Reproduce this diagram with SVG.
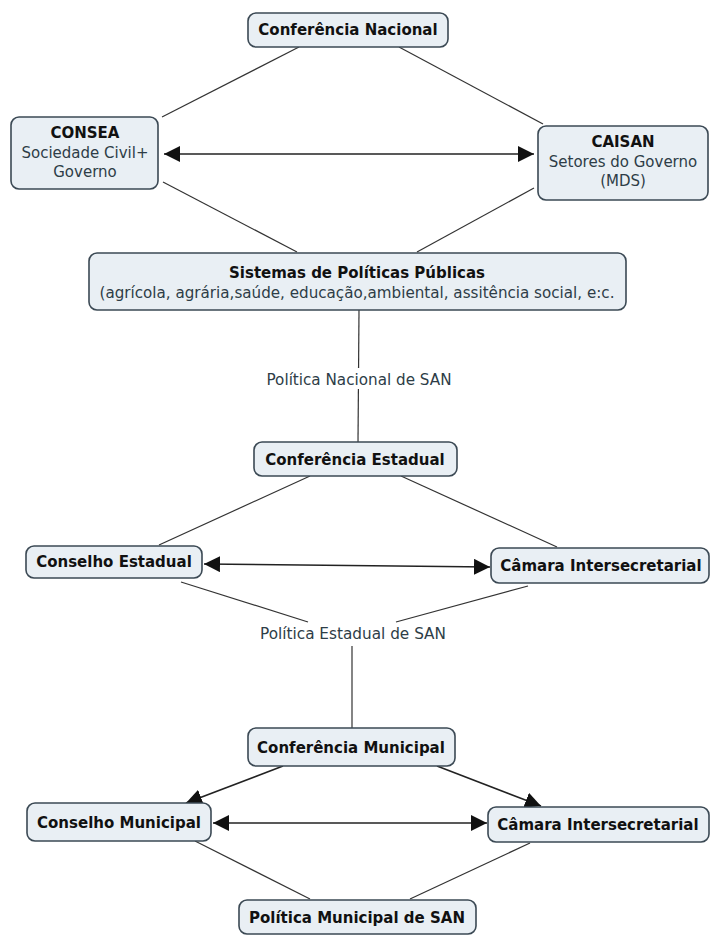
<svg xmlns="http://www.w3.org/2000/svg" width="710" height="935" viewBox="0 0 710 935">
<defs>
<style>
.box{fill:#e9eff4;stroke:#3b4954;stroke-width:1.6}
.b{font-family:"DejaVu Sans",Verdana,sans-serif;font-weight:bold;font-size:15px;fill:#111;text-anchor:middle}
.n{font-family:"DejaVu Sans",Verdana,sans-serif;font-size:15px;fill:#2e3d47;text-anchor:middle}
.l{font-family:"DejaVu Sans",Verdana,sans-serif;font-size:15px;fill:#2e3d47;text-anchor:middle}
.ln{stroke:#333;stroke-width:1.2;fill:none}
.ar{stroke:#222;stroke-width:1.6;fill:none}
</style>
<marker id="ah" viewBox="0 0 10 10" refX="10" refY="5" markerWidth="16" markerHeight="16" markerUnits="userSpaceOnUse" orient="auto-start-reverse">
<path d="M0,0 L10,5 L0,10 Z" fill="#111"/>
</marker>
</defs>
<rect width="710" height="935" fill="#fff"/>
<g id="connectors">
<line class="ln" x1="299" y1="47" x2="162" y2="117"/>
<line class="ln" x1="399" y1="47" x2="543" y2="124"/>
<line class="ar" x1="164" y1="154" x2="534" y2="154" marker-start="url(#ah)" marker-end="url(#ah)"/>
<line class="ln" x1="163" y1="182" x2="297" y2="252"/>
<line class="ln" x1="534" y1="188" x2="417" y2="252"/>
<line class="ln" x1="359" y1="310" x2="358" y2="442"/>
<line class="ln" x1="310" y1="476" x2="159" y2="545"/>
<line class="ln" x1="401" y1="476" x2="557" y2="547"/>
<line class="ar" x1="204" y1="564" x2="490" y2="567" marker-start="url(#ah)" marker-end="url(#ah)"/>
<line class="ln" x1="181" y1="582" x2="308" y2="622"/>
<line class="ln" x1="528" y1="586" x2="396" y2="622"/>
<line class="ln" x1="352" y1="646" x2="352" y2="728"/>
<line class="ar" x1="283" y1="766" x2="186" y2="803" marker-end="url(#ah)"/>
<line class="ar" x1="437" y1="766" x2="541" y2="806" marker-end="url(#ah)"/>
<line class="ar" x1="213" y1="823" x2="487" y2="823" marker-start="url(#ah)" marker-end="url(#ah)"/>
<line class="ln" x1="195" y1="841" x2="310" y2="899"/>
<line class="ln" x1="530" y1="843" x2="410" y2="899"/>
</g>
<g id="lbl-nacional">
<rect x="262" y="368" width="194" height="21" fill="#fff"/>
<text class="l" x="359" y="385" textLength="185" lengthAdjust="spacingAndGlyphs">Política Nacional de SAN</text>
</g>
<g id="lbl-estadual">
<text class="l" x="353" y="639" textLength="186" lengthAdjust="spacingAndGlyphs">Política Estadual de SAN</text>
</g>
<g id="conf-nacional">
<rect class="box" x="248" y="13" width="200" height="34" rx="8"/>
<text class="b" x="348" y="35">Conferência Nacional</text>
</g>
<g id="consea">
<rect class="box" x="11" y="117" width="147" height="72" rx="8"/>
<text class="b" x="85" y="138">CONSEA</text>
<text class="n" x="85" y="158">Sociedade Civil+</text>
<text class="n" x="85" y="177">Governo</text>
</g>
<g id="caisan">
<rect class="box" x="538" y="126" width="170" height="74" rx="8"/>
<text class="b" x="623" y="147">CAISAN</text>
<text class="n" x="623" y="167">Setores do Governo</text>
<text class="n" x="623" y="186">(MDS)</text>
</g>
<g id="sistemas">
<rect class="box" x="89" y="253" width="537" height="57" rx="8"/>
<text class="b" x="357" y="278">Sistemas de Políticas Públicas</text>
<text class="n" x="357" y="298" textLength="515" lengthAdjust="spacingAndGlyphs">(agrícola, agrária,saúde, educação,ambiental, assitência social, e:c.</text>
</g>
<g id="conf-estadual">
<rect class="box" x="254" y="442" width="203" height="34" rx="8"/>
<text class="b" x="355" y="465">Conferência Estadual</text>
</g>
<g id="conselho-estadual">
<rect class="box" x="26" y="546" width="176" height="32" rx="8"/>
<text class="b" x="114" y="567">Conselho Estadual</text>
</g>
<g id="camara-estadual">
<rect class="box" x="491" y="548" width="218" height="35" rx="8"/>
<text class="b" x="601" y="571">Câmara Intersecretarial</text>
</g>
<g id="conf-municipal">
<rect class="box" x="248" y="728" width="207" height="38" rx="8"/>
<text class="b" x="351" y="753">Conferência Municipal</text>
</g>
<g id="conselho-municipal">
<rect class="box" x="27" y="803" width="184" height="38" rx="8"/>
<text class="b" x="119" y="828">Conselho Municipal</text>
</g>
<g id="camara-municipal">
<rect class="box" x="488" y="807" width="221" height="35" rx="8"/>
<text class="b" x="598" y="830">Câmara Intersecretarial</text>
</g>
<g id="politica-municipal">
<rect class="box" x="239" y="900" width="237" height="34" rx="8"/>
<text class="b" x="357" y="923">Política Municipal de SAN</text>
</g>
</svg>
